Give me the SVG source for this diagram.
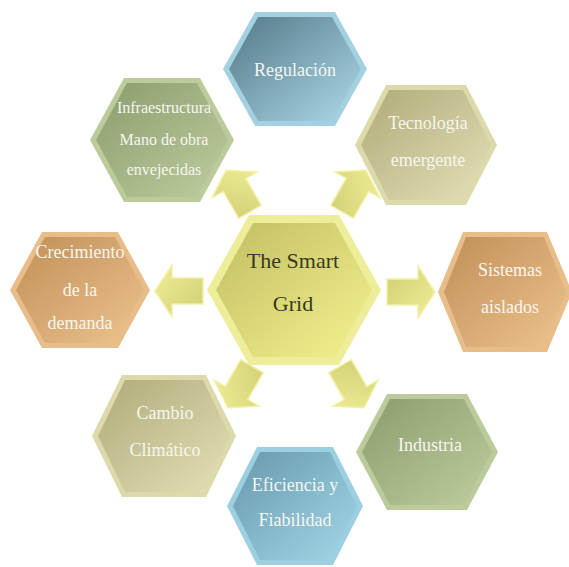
<svg xmlns="http://www.w3.org/2000/svg" width="569" height="567" viewBox="0 0 569 567">
<style>
.lbl{font-family:"Liberation Serif","DejaVu Serif",serif;font-size:18px;fill:#f6f6ef;text-anchor:middle}
.sm{font-size:16px}
.core{font-family:"Liberation Serif","DejaVu Serif",serif;font-size:22px;fill:#3b3a1e;text-anchor:middle}
.arrow{fill:url(#gArrow);stroke:#f1f1a6;stroke-width:1.5;stroke-linejoin:miter}
</style>
<defs>
<linearGradient id="gYellow" x1="0" y1="0" x2="1" y2="1"><stop offset="0" stop-color="#c0be62"/><stop offset="1" stop-color="#f4f28f"/></linearGradient>
<linearGradient id="gBlue1" x1="0" y1="0" x2="1" y2="1"><stop offset="0" stop-color="#557888"/><stop offset="1" stop-color="#acd9e8"/></linearGradient>
<linearGradient id="gBlue2" x1="0" y1="0" x2="1" y2="1"><stop offset="0" stop-color="#6898ad"/><stop offset="1" stop-color="#a2d8e8"/></linearGradient>
<linearGradient id="gGreen" x1="0" y1="0" x2="1" y2="1"><stop offset="0" stop-color="#8a9c6e"/><stop offset="1" stop-color="#bfcd9f"/></linearGradient>
<linearGradient id="gKhaki" x1="0" y1="0" x2="1" y2="1"><stop offset="0" stop-color="#aeaa78"/><stop offset="1" stop-color="#e4e1b8"/></linearGradient>
<linearGradient id="gTan" x1="0" y1="0" x2="1" y2="1"><stop offset="0" stop-color="#c08f58"/><stop offset="1" stop-color="#eec38c"/></linearGradient>
<linearGradient id="gArrow" x1="0" y1="0" x2="1" y2="1"><stop offset="0" stop-color="#cfce72"/><stop offset="1" stop-color="#f0ef98"/></linearGradient>
<polygon id="arr" points="-24,-13 7,-13 7,-26 24,0 7,26 7,13 -24,13"/>
</defs>
<rect width="569" height="567" fill="#ffffff"/>

<g id="connectors">
<use href="#arr" class="arrow" transform="translate(179,291) rotate(180)"/>
<use href="#arr" class="arrow" transform="translate(411,292)"/>
<use href="#arr" class="arrow" transform="translate(238,191) rotate(-120)"/>
<use href="#arr" class="arrow" transform="translate(354,191) rotate(-60)"/>
<use href="#arr" class="arrow" transform="translate(240,387) rotate(120)"/>
<use href="#arr" class="arrow" transform="translate(352,387) rotate(60)"/>
</g>

<g id="node-regulacion">
<polygon points="223,69 255,12 335,12 367,69 335,126 255,126" fill="#a4d1e1"/>
<polygon points="229,69 258,17 332,17 361,69 332,121 258,121" fill="url(#gBlue1)"/>
<text class="lbl" x="295" y="76">Regulación</text>
</g>

<g id="node-infraestructura">
<polygon points="90,140 124,78 200,78 234,140 200,202 124,202" fill="#bccb9c"/>
<polygon points="96,140 127,83 197,83 228,140 197,197 127,197" fill="url(#gGreen)"/>
<text class="lbl sm" x="164" y="113">Infraestructura</text>
<text class="lbl sm" x="164" y="145">Mano de obra</text>
<text class="lbl sm" x="164" y="175">envejecidas</text>
</g>

<g id="node-tecnologia">
<polygon points="355,145 386,85 466,85 497,145 466,205 386,205" fill="#dcd9ab"/>
<polygon points="361,145 389,90 463,90 491,145 463,200 389,200" fill="url(#gKhaki)"/>
<text class="lbl" x="428" y="129">Tecnología</text>
<text class="lbl" x="428" y="166">emergente</text>
</g>

<g id="node-crecimiento">
<polygon points="10,290 42,232 118,232 150,290 118,348 42,348" fill="#e8bd8a"/>
<polygon points="16,290 45,237 115,237 144,290 115,343 45,343" fill="url(#gTan)"/>
<text class="lbl" x="80" y="258">Crecimiento</text>
<text class="lbl" x="80" y="296">de la</text>
<text class="lbl" x="80" y="329">demanda</text>
</g>

<g id="node-sistemas">
<polygon points="438,292 463,232 547,232 572,292 547,352 463,352" fill="#e8bd8a"/>
<polygon points="444,292 466,237 544,237 566,292 544,347 466,347" fill="url(#gTan)"/>
<text class="lbl" x="510" y="276">Sistemas</text>
<text class="lbl" x="510" y="313">aislados</text>
</g>

<g id="node-cambio">
<polygon points="92,436 122,375 206,375 236,436 206,497 122,497" fill="#dcd9ab"/>
<polygon points="98,436 125,380 203,380 230,436 203,492 125,492" fill="url(#gKhaki)"/>
<text class="lbl" x="165" y="419">Cambio</text>
<text class="lbl" x="165" y="456">Climático</text>
</g>

<g id="node-eficiencia">
<polygon points="227,506 257,447 333,447 363,506 333,565 257,565" fill="#9ccfe0"/>
<polygon points="233,506 260,452 330,452 357,506 330,560 260,560" fill="url(#gBlue2)"/>
<text class="lbl" x="295" y="491">Eficiencia y</text>
<text class="lbl" x="295" y="526">Fiabilidad</text>
</g>

<g id="node-industria">
<polygon points="356,452 387,394 467,394 498,452 467,510 387,510" fill="#bccb9c"/>
<polygon points="362,452 390,399 464,399 492,452 464,505 390,505" fill="url(#gGreen)"/>
<text class="lbl" x="430" y="451">Industria</text>
</g>

<g id="node-smartgrid">
<polygon points="207,290 249,215 339,215 381,290 339,365 249,365" fill="#eeed9a"/>
<polygon points="216,290 253,223 335,223 372,290 335,357 253,357" fill="url(#gYellow)"/>
<text class="core" x="293" y="268">The Smart</text>
<text class="core" x="293" y="311">Grid</text>
</g>
</svg>
